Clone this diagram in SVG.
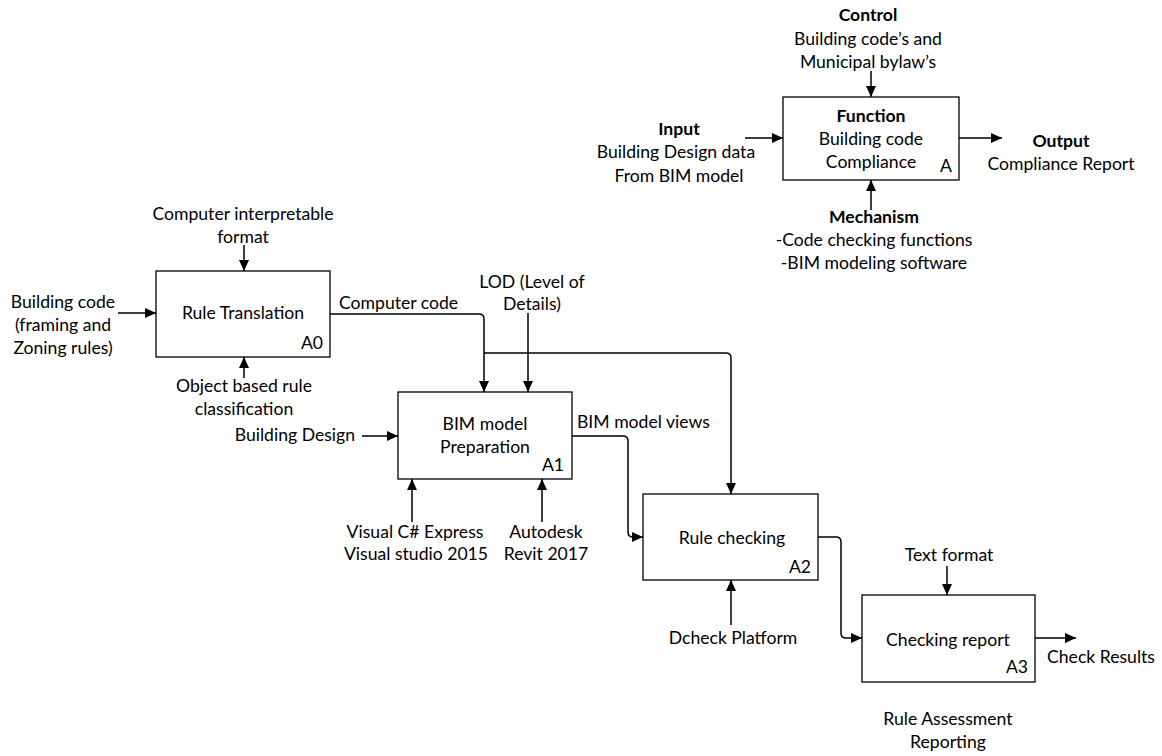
<svg xmlns="http://www.w3.org/2000/svg" width="1162" height="756" viewBox="0 0 1162 756">
  <style>
    text { font-family: Lato, "Liberation Sans", sans-serif; font-size: 17.6px; fill: #000; }
    .b { font-weight: bold; }
    .m { text-anchor: middle; }
    .e { text-anchor: end; }
    .box { fill: #fff; stroke: #000; stroke-width: 1.3; }
    .ln { fill: none; stroke: #000; stroke-width: 1.5; }
    .arr { marker-end: url(#ah); }
  </style>
  <defs>
    <marker id="ah" markerWidth="12" markerHeight="10" refX="11" refY="5" orient="auto" markerUnits="userSpaceOnUse">
      <path d="M0,0 L11,5 L0,10 Z" fill="#000"/>
    </marker>
  </defs>
  <rect width="1162" height="756" fill="#fff"/>

  <!-- legend: generic IDEF0 function box -->
  <g id="legend">
    <rect class="box" x="783" y="97" width="176" height="83"/>
    <text class="m b" x="871" y="122">Function</text>
    <text class="m" x="871" y="145">Building code</text>
    <text class="m" x="871" y="168">Compliance</text>
    <text class="e" x="952" y="172">A</text>
    <text class="m b" x="868" y="21">Control</text>
    <text class="m" x="868" y="45">Building code’s and</text>
    <text class="m" x="868" y="68">Municipal bylaw’s</text>
    <text class="m b" x="679" y="135">Input</text>
    <text class="m" x="676" y="158">Building Design data</text>
    <text class="m" x="679" y="182">From BIM model</text>
    <text class="m b" x="1061" y="147">Output</text>
    <text class="m" x="1061" y="170">Compliance Report</text>
    <text class="m b" x="874" y="223">Mechanism</text>
    <text class="m" x="874" y="246">-Code checking functions</text>
    <text class="m" x="874" y="269">-BIM modeling software</text>
  </g>

  <g id="A0">
    <rect class="box" x="156" y="271" width="174" height="86"/>
    <text class="m" x="243" y="319">Rule Translation</text>
    <text class="e" x="323" y="349">A0</text>
  </g>

  <g id="A1">
    <rect class="box" x="398" y="392" width="174" height="87"/>
    <text class="m" x="485" y="430">BIM model</text>
    <text class="m" x="485" y="453">Preparation</text>
    <text class="e" x="564" y="471">A1</text>
  </g>

  <g id="A2">
    <rect class="box" x="643" y="494" width="175" height="86"/>
    <text class="m" x="732" y="544">Rule checking</text>
    <text class="e" x="811" y="573">A2</text>
  </g>

  <g id="A3">
    <rect class="box" x="862" y="595" width="173" height="87"/>
    <text class="m" x="948" y="646">Checking report</text>
    <text class="e" x="1028" y="673">A3</text>
  </g>

  <g id="labels">
    <text class="m" x="243" y="220">Computer interpretable</text>
    <text class="m" x="243" y="243">format</text>
    <text class="m" x="63" y="308">Building code</text>
    <text class="m" x="63" y="331">(framing and</text>
    <text class="m" x="63" y="354">Zoning rules)</text>
    <text class="m" x="244" y="392">Object based rule</text>
    <text class="m" x="244" y="415">classification</text>
    <text x="339" y="309">Computer code</text>
    <text class="m" x="532" y="288">LOD (Level of</text>
    <text class="m" x="532" y="310">Details)</text>
    <text class="e" x="355" y="441">Building Design</text>
    <text x="577" y="428">BIM model views</text>
    <text class="m" x="415" y="538">Visual C# Express</text>
    <text class="m" x="416" y="560">Visual studio 2015</text>
    <text class="m" x="546" y="538">Autodesk</text>
    <text class="m" x="546" y="560">Revit 2017</text>
    <text class="m" x="733" y="644">Dcheck Platform</text>
    <text class="m" x="949" y="561">Text format</text>
    <text class="m" x="1101" y="663">Check Results</text>
    <text class="m" x="948" y="725">Rule Assessment</text>
    <text class="m" x="948" y="748">Reporting</text>
  </g>

  <g id="connectors">
    <!-- legend arrows -->
    <line class="ln arr" x1="871" y1="71" x2="871" y2="97"/>
    <line class="ln arr" x1="745" y1="138" x2="783" y2="138"/>
    <line class="ln arr" x1="959" y1="138" x2="1002" y2="138"/>
    <line class="ln arr" x1="871" y1="210" x2="871" y2="180"/>

    <!-- A0 -->
    <line class="ln arr" x1="244" y1="245" x2="244" y2="271"/>
    <line class="ln arr" x1="118" y1="313" x2="156" y2="313"/>
    <line class="ln arr" x1="244" y1="378" x2="244" y2="357"/>
    <path class="ln arr" d="M330,314 H479 Q484,314 484,319 V392"/>
    <path class="ln arr" d="M484,353 H726 Q731,353 731,358 V494"/>

    <!-- A1 -->
    <line class="ln arr" x1="528" y1="313" x2="528" y2="392"/>
    <line class="ln arr" x1="362" y1="436" x2="398" y2="436"/>
    <line class="ln arr" x1="412" y1="522" x2="412" y2="479"/>
    <line class="ln arr" x1="542" y1="522" x2="542" y2="479"/>
    <path class="ln arr" d="M572,436 H623 Q628,436 628,441 V532 Q628,537 633,537 H643"/>

    <!-- A2 -->
    <line class="ln arr" x1="731" y1="625" x2="731" y2="580"/>
    <path class="ln arr" d="M818,537 H836 Q841,537 841,542 V633 Q841,638 846,638 H862"/>

    <!-- A3 -->
    <line class="ln arr" x1="947" y1="566" x2="947" y2="595"/>
    <line class="ln arr" x1="1035" y1="638" x2="1076" y2="638"/>
  </g>
</svg>
